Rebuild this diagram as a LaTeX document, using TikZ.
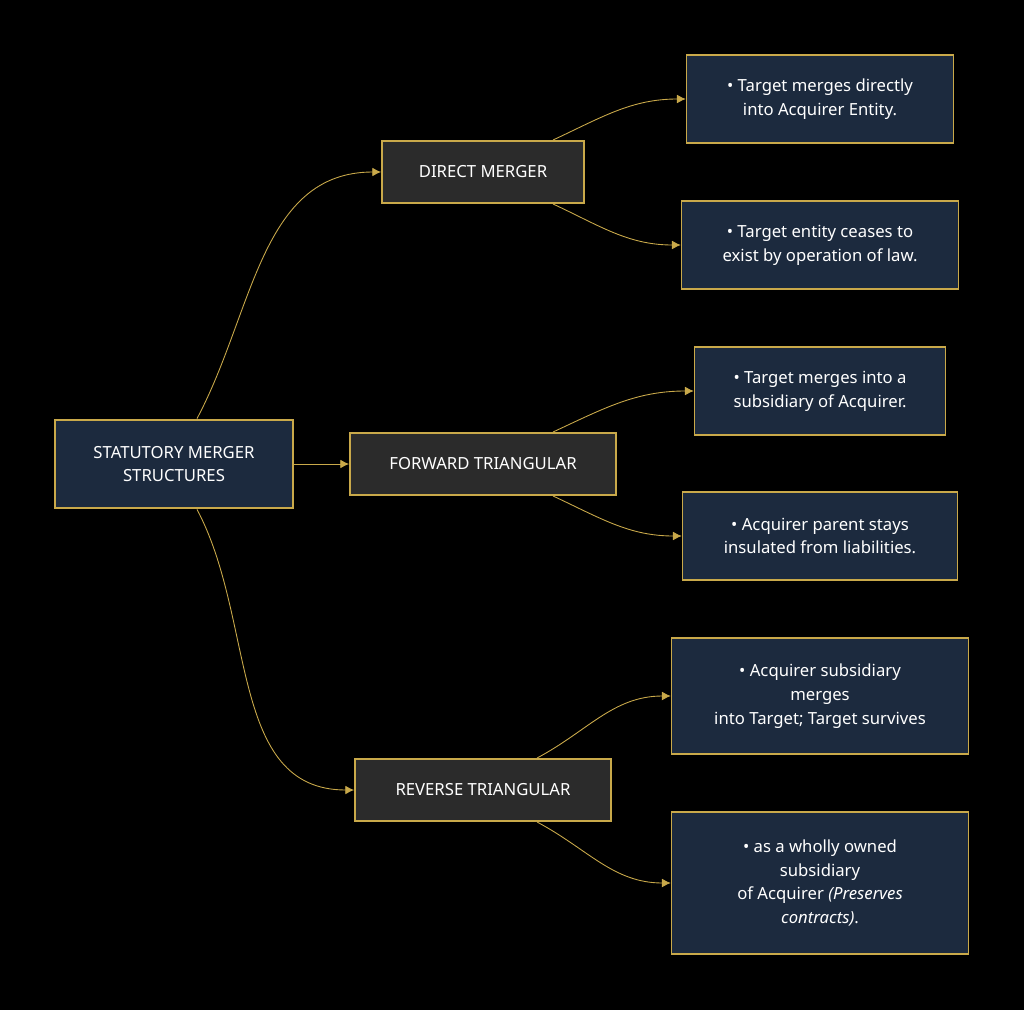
\documentclass[tikz,border=0pt]{standalone}
\usepackage{fontspec}
\setmainfont{Noto Sans}
\usetikzlibrary{arrows.meta}
\definecolor{gold}{HTML}{C9A94A}
\definecolor{navy}{HTML}{1C2A3E}
\definecolor{slate}{HTML}{2B2B2B}
\begin{document}
\begin{tikzpicture}[x=0.02cm,y=-0.02cm,
    font=\fontsize{9.5pt}{13.5pt}\selectfont,
    root node/.style={draw=gold,fill=navy,line width=1.6pt,text=white,align=center,font=\fontsize{9.5pt}{13.5pt}\selectfont\bfseries},
    type node/.style={draw=gold,fill=slate,line width=1.1pt,text=white,minimum height=1.24cm,font=\fontsize{9.5pt}{13.5pt}\selectfont\bfseries},
    leaf node/.style={draw=gold,fill=navy,line width=0.9pt,text=white,align=center},
    link/.style={draw=gold,line width=0.5pt,-{Latex[length=5pt,width=5pt]}}
  ]
  \fill[black] (0,0) rectangle (1024,1010);
  \useasboundingbox (0,0) rectangle (1024,1010);
  \node[root node,minimum width=4.76cm,minimum height=1.76cm] (root) at (174,464) {STATUTORY MERGER\\STRUCTURES};
  \node[type node,minimum width=4.04cm] (direct) at (483,172) {DIRECT MERGER};
  \node[type node,minimum width=5.32cm] (forward) at (483,464) {FORWARD TRIANGULAR};
  \node[type node,minimum width=5.12cm] (reverse) at (483,790) {REVERSE TRIANGULAR};
  \node[leaf node,minimum width=5.34cm,minimum height=1.76cm] (d1) at (820,99) {• Target merges directly\\into Acquirer Entity.};
  \node[leaf node,minimum width=5.54cm,minimum height=1.76cm] (d2) at (820,245) {• Target entity ceases to\\exist by operation of law.};
  \node[leaf node,minimum width=5.02cm,minimum height=1.76cm] (f1) at (820,391) {• Target merges into a\\subsidiary of Acquirer.};
  \node[leaf node,minimum width=5.5cm,minimum height=1.76cm] (f2) at (820,536) {• Acquirer parent stays\\insulated from liabilities.};
  \node[leaf node,minimum width=5.94cm,minimum height=2.32cm] (r1) at (820,696) {• Acquirer subsidiary\\merges\\into Target; Target survives};
  \node[leaf node,minimum width=5.94cm,minimum height=2.84cm] (r2) at (820,883) {• as a wholly owned\\subsidiary\\of Acquirer \textit{(Preserves}\\\textit{contracts)}.};
  \draw[link] ([xshift=0.46cm]root.north) to[out=62,in=180] (direct.west);
  \draw[link] (root.east) -- (forward.west);
  \draw[link] ([xshift=0.46cm]root.south) to[out=-62,in=180] (reverse.west);
  \draw[link] ([xshift=1.4cm]direct.north) to[out=25,in=180] (d1.west);
  \draw[link] ([xshift=1.4cm]direct.south) to[out=-25,in=180] (d2.west);
  \draw[link] ([xshift=1.4cm]forward.north) to[out=25,in=180] (f1.west);
  \draw[link] ([xshift=1.4cm]forward.south) to[out=-25,in=180] (f2.west);
  \draw[link] ([xshift=1.08cm]reverse.north) to[out=28,in=180] (r1.west);
  \draw[link] ([xshift=1.08cm]reverse.south) to[out=-28,in=180] (r2.west);
\end{tikzpicture}
\end{document}
